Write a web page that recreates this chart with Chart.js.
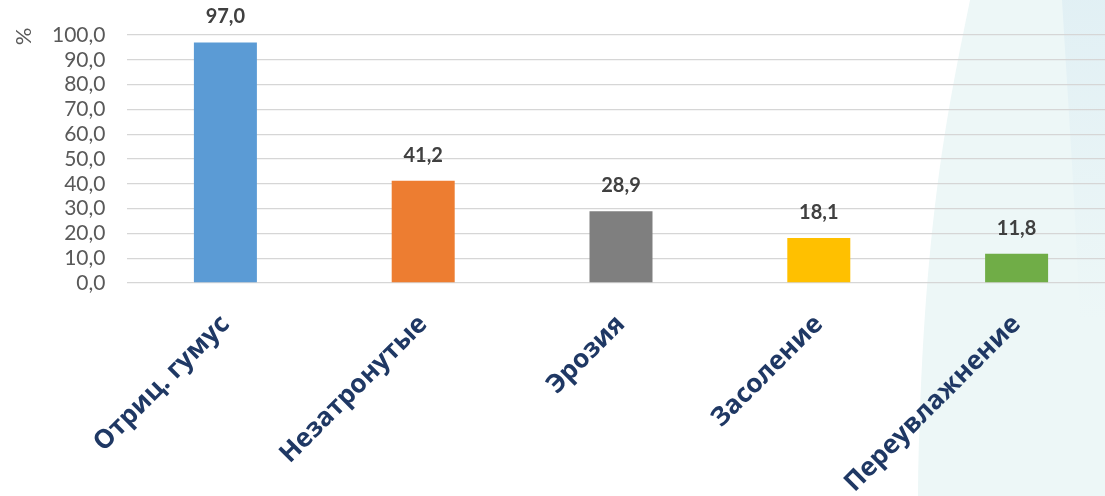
<!DOCTYPE html>
<html><head><meta charset="utf-8">
<script src="https://cdn.jsdelivr.net/npm/chart.js@4/dist/chart.umd.min.js"></script>
<style>
html,body{margin:0;padding:0;overflow:hidden;background:#fff;width:1105px;height:496px}
#wrap{position:absolute;left:0;top:0;width:1125px;height:496px}
</style></head>
<body><div id="wrap"><canvas id="c"></canvas></div>
<script>
const categories = ['Отриц. гумус', 'Незатронутые', 'Эрозия', 'Засоление', 'Переувлажнение'];
const values = [97.0, 41.2, 28.9, 18.1, 11.8];
const barColors = ['#5B9BD5', '#ED7D31', '#7F7F7F', '#FFC000', '#70AD47'];
const yMin = 0, yMax = 100, yStep = 10;
const yAxisTitle = '%';

const fmt = v => v.toFixed(1).replace('.', ',');

const bgPlugin = {
  id: 'bg',
  beforeDraw(chart) {
    const ctx = chart.ctx;
    ctx.save();
    ctx.fillStyle = '#ffffff';
    ctx.fillRect(0, 0, chart.width, chart.height);
    ctx.fillStyle = '#EDF7F7';
    ctx.beginPath();
    ctx.moveTo(970, 0);
    ctx.bezierCurveTo(950, 100, 922, 220, 918, 496);
    ctx.lineTo(1125, 496);
    ctx.lineTo(1125, 0);
    ctx.closePath();
    ctx.fill();
    const g2 = ctx.createLinearGradient(0, 0, 0, 320);
    g2.addColorStop(0, 'rgba(224,239,244,0.9)');
    g2.addColorStop(1, 'rgba(224,239,244,0)');
    ctx.fillStyle = g2;
    ctx.beginPath();
    ctx.moveTo(1062, 0);
    ctx.bezierCurveTo(1068, 100, 1075, 200, 1080, 320);
    ctx.lineTo(1125, 320);
    ctx.lineTo(1125, 0);
    ctx.closePath();
    ctx.fill();
    ctx.restore();
  }
};

const labelPlugin = {
  id: 'vals',
  afterDatasetsDraw(chart) {
    const ctx = chart.ctx;
    const meta = chart.getDatasetMeta(0);
    ctx.save();
    ctx.font = 'bold 20px Lato';
    ctx.fillStyle = '#404040';
    ctx.textAlign = 'center';
    ctx.textBaseline = 'alphabetic';
    meta.data.forEach((bar, i) => {
      ctx.fillText(fmt(values[i]), bar.x, bar.y - 19);
    });
    ctx.restore();
  },
  afterDraw(chart) {
    const ctx = chart.ctx;
    ctx.save();
    ctx.font = '22px Lato';
    ctx.fillStyle = '#595959';
    ctx.textAlign = 'center';
    ctx.textBaseline = 'middle';
    ctx.translate(23.5, 36.5);
    ctx.rotate(-Math.PI / 2);
    ctx.fillText(yAxisTitle, 0, 0);
    ctx.restore();
  }
};

new Chart(document.getElementById('c'), {
  type: 'bar',
  data: {
    labels: categories,
    datasets: [{
      data: values,
      backgroundColor: barColors,
      borderWidth: 0,
      barPercentage: 0.3185,
      categoryPercentage: 1.0
    }]
  },
  options: {
    responsive: true,
    maintainAspectRatio: false,
    animation: false,
    events: [],
    layout: { padding: { top: 35, right: 9.5, left: 0, bottom: 0 } },
    plugins: { legend: { display: false }, tooltip: { enabled: false }, title: { display: false } },
    scales: {
      x: {
        grid: { display: false, drawTicks: false },
        border: { display: false },
        ticks: {
          autoSkip: false, maxRotation: 45, minRotation: 45, padding: 26,
          color: '#1F3864',
          font: { family: 'Open Sans', size: 26, weight: 'bold' }
        },
        afterFit(scale) { scale.height = 213; }
      },
      y: {
        min: yMin, max: yMax,
        grid: { color: '#D6D6D6', lineWidth: 1.3, drawTicks: false },
        border: { display: false },
        ticks: {
          stepSize: yStep, autoSkip: false, padding: 21, color: '#595959',
          font: { family: 'Lato', size: 21 },
          callback: v => fmt(v)
        },
        afterFit(scale) { scale.width = 126.5; }
      }
    }
  },
  plugins: [bgPlugin, labelPlugin]
});
</script>
</body></html>
